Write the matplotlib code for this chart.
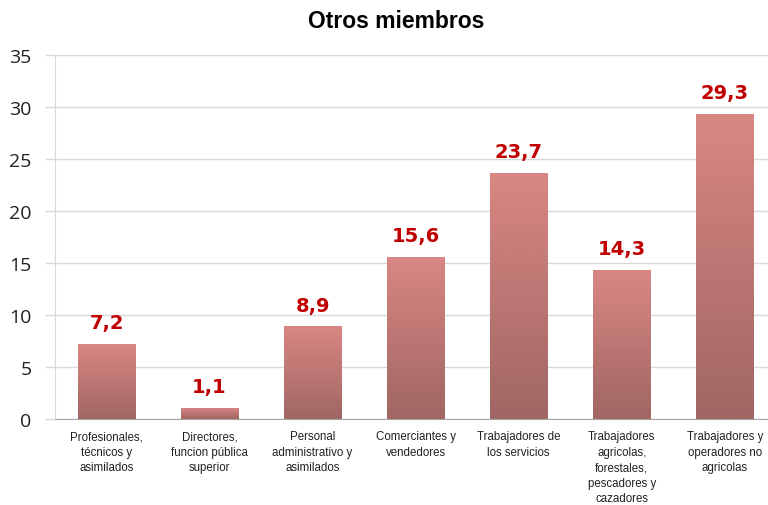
import numpy as np
import matplotlib.pyplot as plt
from matplotlib.colors import LinearSegmentedColormap

categorias = ['Profesionales,\ntécnicos y\nasimilados',
              'Directores,\nfuncion pública\nsuperior',
              'Personal\nadministrativo y\nasimilados',
              'Comerciantes y\nvendedores',
              'Trabajadores de\nlos servicios',
              'Trabajadores\nagricolas,\nforestales,\npescadores y\ncazadores',
              'Trabajadores y\noperadores no\nagricolas']
valores = [7.2, 1.1, 8.9, 15.6, 23.7, 14.3, 29.3]
etiquetas = ['7,2', '1,1', '8,9', '15,6', '23,7', '14,3', '29,3']

plt.rcParams['font.family'] = ['Liberation Sans', 'DejaVu Sans']

fig = plt.figure(figsize=(7.68, 5.06), dpi=100)
ax = fig.add_axes([0.0716, 0.17, 0.9284, 0.719])

# degradado vertical de las barras
cmap = LinearSegmentedColormap.from_list('barra', ['#A06663', '#D98784'])
grad = np.linspace(0, 1, 256).reshape(-1, 1)

x = np.arange(len(valores))
ancho = 0.56
barras = ax.bar(x, valores, width=ancho, color='none', edgecolor='none', zorder=2)
for b, v in zip(barras, valores):
    x0 = b.get_x()
    im = ax.imshow(grad, cmap=cmap, origin='lower', aspect='auto',
                   extent=(x0, x0 + ancho, 0, v), zorder=2)
    im.set_clip_path(b)

for xi, v, t in zip(x, valores, etiquetas):
    ax.text(xi, v + 1.15, t, ha='center', va='bottom', color='#C00000',
            fontsize=14, fontweight='bold', family='DejaVu Sans')

ax.set_xlim(-0.5, 6.42)
ax.set_ylim(0, 35)
ax.set_yticks(range(0, 36, 5))
ax.set_yticklabels([str(v) for v in range(0, 36, 5)], family='Open Sans')
ax.yaxis.grid(True, color='#D9D9D9', linewidth=1, zorder=0)
ax.set_axisbelow(True)
ax.set_xticks(x)
ax.set_xticklabels(categorias, fontsize=8.3, color='#222222', linespacing=1.4)
ax.tick_params(axis='y', labelsize=14, labelcolor='#222222', color='#D9D9D9',
               length=7, width=1, pad=10)
ax.tick_params(axis='x', length=0, pad=8)
for s in ['top', 'right']:
    ax.spines[s].set_visible(False)
ax.spines['left'].set_color('#D9D9D9')
ax.spines['bottom'].set_color('#A6A6A6')

fig.text(0.516, 0.958, 'Otros miembros', ha='center', va='center',
         fontsize=16.5, fontweight='bold')

fig.savefig('out.png', dpi=100)
